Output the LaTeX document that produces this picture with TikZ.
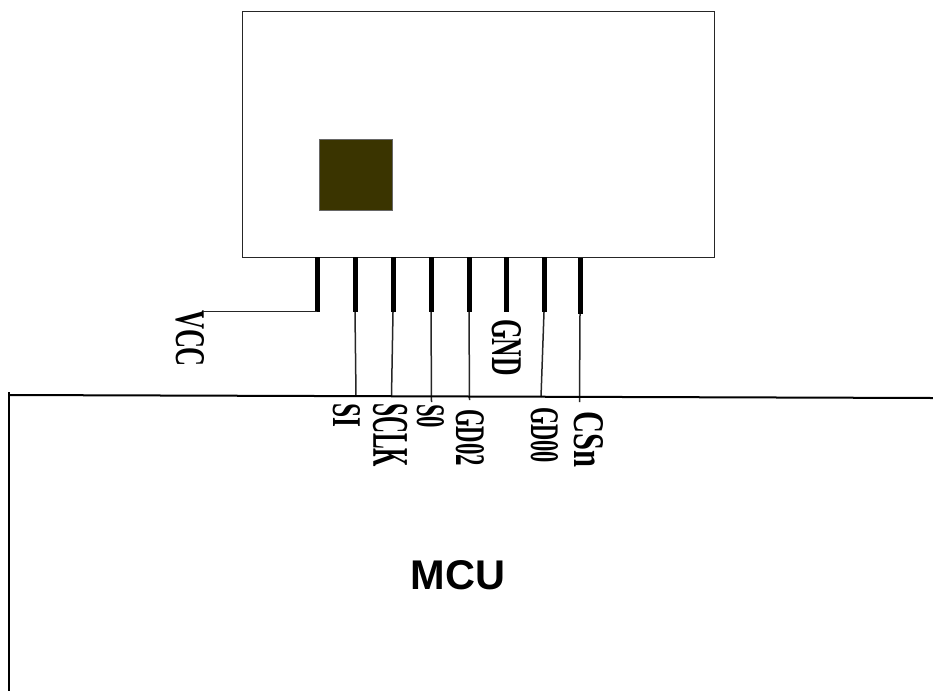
\documentclass[tikz,border=0pt]{standalone}
\usepackage{graphicx}
\usepackage{fontspec}
\setmainfont{Liberation Serif}
\newfontfamily\mcufont{Liberation Sans}
\usetikzlibrary{calc}
\definecolor{chipfill}{HTML}{3A3400}
\tikzset{
  chipbox/.style={draw=black!85, line width=1.4pt, anchor=north west, inner sep=0pt},
  padbox/.style={draw=black!60, fill=chipfill, line width=.6pt, anchor=north west, inner sep=0pt, minimum width=72.5pt, minimum height=70.5pt},
  pinline/.style={line width=5pt},
  wire/.style={line width=1.5pt, black!85},
  edgeline/.style={line width=2pt},
  pinlabel/.style={rotate=-90, inner sep=0pt, font=\bfseries}
}
\newcommand{\pintext}[3]{\resizebox{#1pt}{#2pt}{#3}}

\begin{document}
\begin{tikzpicture}[x=1pt,y=-1pt]
\useasboundingbox (0,0) rectangle (933,691);

% Nodos
\node [chipbox, minimum width=472pt, minimum height=246pt] at (242,11) (chip) {};
\node [padbox] at (319,139) (pad) {};
\node [font=\mcufont\bfseries\fontsize{41.5}{41.5}\selectfont, inner sep=0pt] at (458,575) (mcu) {MCU};

\node [pinlabel] at (190,338.5) (vcc) {\pintext{57}{28}{VCC}};
\node [pinlabel] at (346.5,415) (si) {\pintext{24}{27}{SI}};
\node [pinlabel] at (390,435) (sclk) {\pintext{64}{34}{SCLK}};
\node [pinlabel] at (430.5,416) (so) {\pintext{24}{27}{S0}};
\node [pinlabel] at (470,437.5) (gdo2) {\pintext{57}{28}{GD02}};
\node [pinlabel] at (506.5,347.5) (gnd) {\pintext{57}{29}{GND}};
\node [pinlabel] at (544.5,435) (gdo0) {\pintext{56}{27}{GD00}};
\node [pinlabel] at (588.5,439) (csn) {\pintext{56}{29}{CSn}};

% Puntos
\coordinate (p1) at (317,257);   \coordinate (q1) at (317,312);
\coordinate (p2) at (355,257);   \coordinate (q2) at (355,312);
\coordinate (p3) at (393,257);   \coordinate (q3) at (393,312);
\coordinate (p4) at (431,257);   \coordinate (q4) at (431,312);
\coordinate (p5) at (469,257);   \coordinate (q5) at (469,312);
\coordinate (p6) at (506,257);   \coordinate (q6) at (506,312);
\coordinate (p7) at (544,257);   \coordinate (q7) at (544,312);
\coordinate (p8) at (580,258);   \coordinate (q8) at (580,314);

\coordinate (vccend) at (203,311.5);
\coordinate (r2) at (356,396);
\coordinate (r3) at (391.5,396);
\coordinate (r4) at (431.5,402);
\coordinate (r5) at (469.5,400);
\coordinate (r7) at (541,397);
\coordinate (r8) at (579.5,402);

\coordinate (mcutl) at (9,392);
\coordinate (mcubl) at (9,691);
\coordinate (mcutop) at (9,395);
\coordinate (mcutr) at (933,398);

% Conexiones
\draw[pinline] (p1) -- (q1);
\draw[pinline] (p2) -- (q2);
\draw[pinline] (p3) -- (q3);
\draw[pinline] (p4) -- (q4);
\draw[pinline] (p5) -- (q5);
\draw[pinline] (p6) -- (q6);
\draw[pinline] (p7) -- (q7);
\draw[pinline] (p8) -- (q8);

\draw[wire] ($(q1)+(0,-.5)$) -- (vccend);
\draw[wire] (q2) -- (r2);
\draw[wire] (q3) -- (r3);
\draw[wire] (q4) -- (r4);
\draw[wire] (q5) -- (r5);
\draw[wire] (q7) -- (r7);
\draw[wire] (q8) -- (r8);

\draw[edgeline] (mcutop) -- (mcutr);
\draw[line width=2.2pt] (mcutl) -- (mcubl);

\end{tikzpicture}
\end{document}
